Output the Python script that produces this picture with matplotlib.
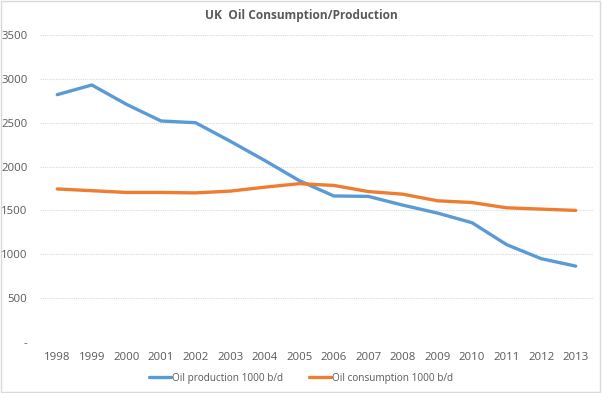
import numpy as np
import matplotlib
matplotlib.use('Agg')
import matplotlib.pyplot as plt

# data
years = ['1998', '1999', '2000', '2001', '2002', '2003', '2004', '2005',
         '2006', '2007', '2008', '2009', '2010', '2011', '2012', '2013']
production = [2820, 2930, 2710, 2520, 2500, 2290, 2070, 1840,
              1665, 1660, 1560, 1470, 1360, 1110, 950, 865]
consumption = [1745, 1725, 1705, 1705, 1700, 1720, 1765, 1805,
               1785, 1715, 1685, 1610, 1590, 1530, 1515, 1500]
yticks = [0, 500, 1000, 1500, 2000, 2500, 3000, 3500]
ytick_labels = ['-', '500', '1000', '1500', '2000', '2500', '3000', '3500']

plt.rcParams['font.family'] = ['Open Sans', 'DejaVu Sans']

fig = plt.figure(figsize=(6.02, 3.93), dpi=100)
ax = fig.add_axes([40/602, 1 - 342/393, 553/602, 307/393])

x = np.arange(len(years))
ax.plot(x, production, color='#5B9BD5', lw=2.4, solid_capstyle='round',
        label='Oil production 1000 b/d')
ax.plot(x, consumption, color='#ED7D31', lw=2.4, solid_capstyle='round',
        label='Oil consumption 1000 b/d')

ax.set_xlim(-0.5, len(years) - 0.5)
ax.set_ylim(0, 3500)
ax.set_xticks(x)
ax.set_xticklabels(years)
ax.set_yticks(yticks)
ax.set_yticklabels(ytick_labels)
ax.tick_params(axis='both', length=0, labelsize=8.2, colors='#595959')
ax.tick_params(axis='x', pad=7)
ax.tick_params(axis='y', pad=9)

ax.grid(axis='y', color='#D9D9D9', lw=0.8, ls=(0, (1, 1)))
ax.set_axisbelow(True)
for s in ax.spines.values():
    s.set_visible(False)

fig.text(0.5, 1 - 16/393, 'UK  Oil Consumption/Production', ha='center', va='center',
         fontsize=8.6, fontweight='bold', color='#595959')

fig.legend(loc='center', bbox_to_anchor=(0.5, 1 - 378/393), ncol=2, frameon=False,
           fontsize=7.2, handlelength=2.2, handletextpad=0.1, columnspacing=2.5,
           labelcolor='#595959')

# light frame round the figure
fig.patches.append(plt.Rectangle((0.002, 0.003), 0.995, 0.994, transform=fig.transFigure,
                                 fill=False, edgecolor='#D9D9D9', lw=1))

fig.savefig('out.png', dpi=100)
